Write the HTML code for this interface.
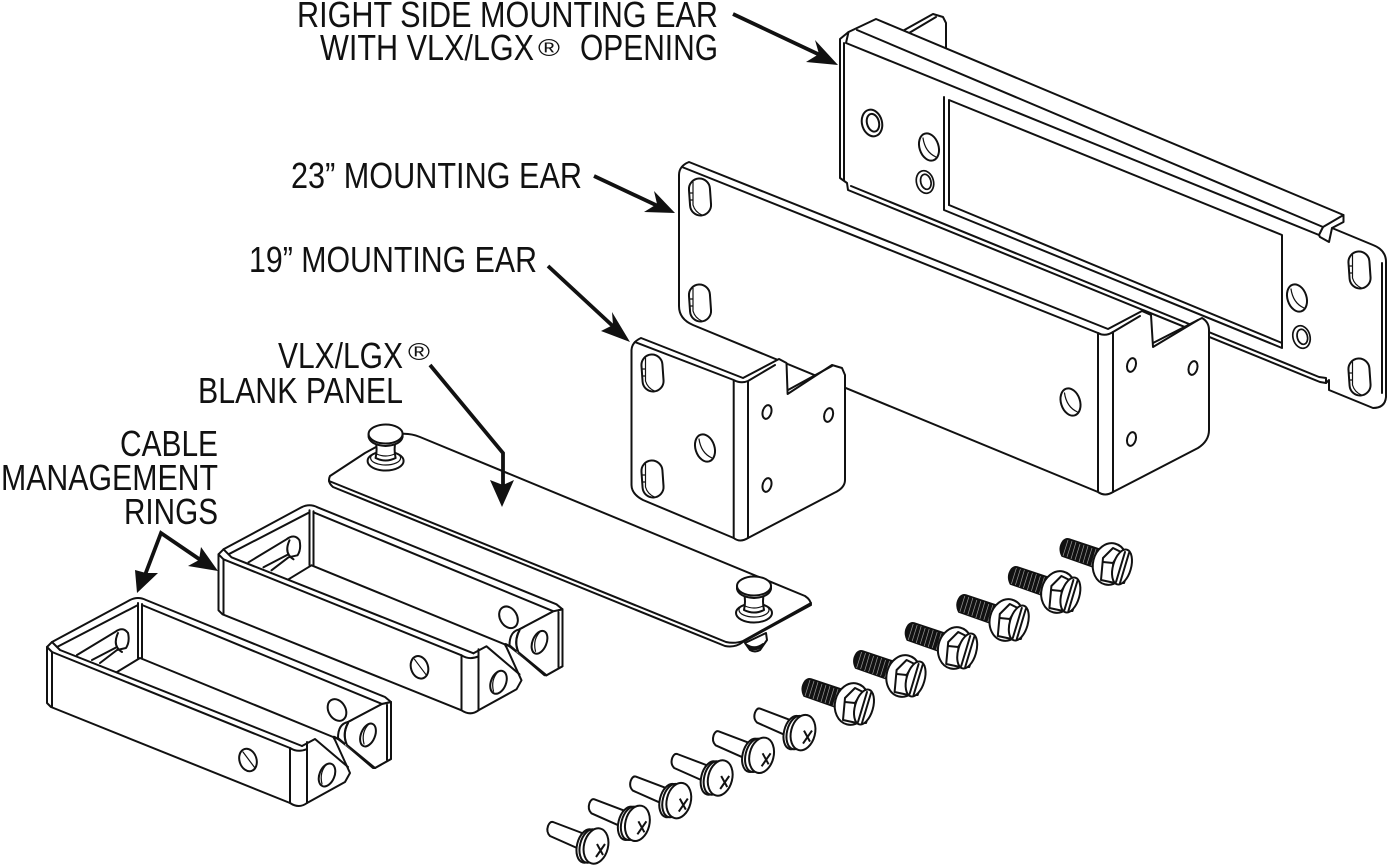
<!DOCTYPE html>
<html><head><meta charset="utf-8"><style>
html,body{margin:0;padding:0;background:#fff;width:1388px;height:865px;overflow:hidden}
svg{display:block}
text{font-family:"Liberation Sans",Arial,sans-serif;font-size:36px;fill:#111}
.b{fill:#fff;stroke:#111;stroke-width:2;stroke-linejoin:round;stroke-linecap:round}
.l{fill:none;stroke:#111;stroke-width:2;stroke-linejoin:round;stroke-linecap:round}
.t{fill:none;stroke:#111;stroke-width:1.2;stroke-linecap:round}
.a{fill:none;stroke:#111;stroke-width:3.8;stroke-linejoin:miter}
.h{fill:#111;stroke:none}
</style></head><body>
<svg width="1388" height="865" viewBox="0 0 1388 865" xmlns="http://www.w3.org/2000/svg">
<defs>
<g id="slot"><rect class="b" x="-10.5" y="-18.5" width="21" height="37" rx="10.5" transform="rotate(-4)"/><path class="t" d="M-7,-15 V8 Q-5,15 2,18 M-10,-4 H-7 M-10,3 H-7"/></g>
<g id="hole"><ellipse class="b" rx="9.5" ry="14" transform="rotate(-18)"/><path class="t" d="M-6,-9 Q-4,5 7,10"/></g>
<g id="ring2"><ellipse class="b" rx="10" ry="13.5" transform="rotate(-15)"/><ellipse class="l" cx="1" cy="0" rx="6" ry="9" transform="rotate(-15)"/></g>
<g id="small"><ellipse class="b" rx="4.3" ry="7" transform="rotate(15)"/></g>
<g id="ring">
<path class="b" d="M47,647 L52,642 L130,600 Q138,596 146,600 L385,697 L391,702 V759 L375,768 L338,739 Q331,734 335,740 L345,762 L350,773 L345,782 L307,803 Q299,809 290,803 L51,707 L47,703 Z"/>
<path class="l" d="M52,652 L290,748 M60,650 L302,746 M57,647 L138,605 M52,642 L60,650 M47,647 L52,652"/>
<path class="l" d="M52,652 V707 M290,748 V803 M307,742 V803 M290,748 Q298,753 307,749 M302,746 L315,739 L348,767"/>
<path class="l" d="M138,603 V658 M142,604 V658 M117,672 L140,658 L338,739"/>
<path class="l" d="M142,605 L382,704 M348,722 L382,704 L391,702 M387,705 V760"/>
<path class="l" d="M77,655 L115,632 Q123,626 128,633 Q130,642 126,648 L117,650 L100,663 M92,660 L117,647 M118,633 Q112,646 122,652"/>
<g transform="translate(248,760)"><ellipse class="b" rx="8.5" ry="11.5" transform="rotate(-18)"/><path class="t" d="M-5,-8 L7,8"/></g>
<g transform="translate(327,775)"><ellipse class="b" rx="7.5" ry="12" transform="rotate(22)"/><path class="t" d="M0,-11 Q-8,-3 -5,9"/></g>
<ellipse class="l" cx="337" cy="710" rx="8.5" ry="11.5" transform="rotate(-30 337 710)"/>
<path class="b" d="M348,722 Q338,724 338,738 L373,768 L375,768 L347,745 Q342,735 348,723 Z"/>
<path d="M346,722 L354,718 L345,745 L375,768 L391,759 V705 L382,704 Z" fill="#fff"/>
<path class="l" d="M348,722 L382,704 L391,702 V759 L375,768 L347,745 Q342,733 348,723 M387,705 V760"/>
<g transform="translate(368,735)"><ellipse class="b" rx="7" ry="12" transform="rotate(22)"/><path class="t" d="M1,-11 Q-7,-3 -4,9"/></g>
</g>
<g id="pan">
<path class="b" d="M553,822 L582,833 L577,848 L550,836 Q546,832 548,826 Q550,821 553,822 Z"/>
<ellipse class="b" cx="587" cy="846" rx="10" ry="17" transform="rotate(14 587 846)"/>
<ellipse class="b" cx="590" cy="846" rx="10" ry="17" transform="rotate(14 590 846)"/>
<ellipse class="b" cx="596" cy="846" rx="12" ry="18" transform="rotate(14 596 846)"/>
<path d="M597,844 L603,855 M605,844 L596,857" stroke="#111" stroke-width="2" fill="none"/>
</g>
<g id="bolt">
<path d="M811,679 L847,691 L838,708 L804,696 Q800,688 805,681 Q808,678 811,679 Z" fill="#111" stroke="#111" stroke-width="1.5" stroke-linejoin="round"/>
<path d="M810,680 L805,696 M814,681 L809,697 M818,682 L813,699 M822,684 L817,700 M826,685 L821,702 M830,686 L825,703 M834,688 L829,704 M838,689 L833,706" stroke="#999" stroke-width=".7" fill="none"/>
<ellipse class="b" cx="852" cy="704" rx="17" ry="21" transform="rotate(14 852 704)" stroke-width="2.4"/>
<path class="b" d="M845,698 L855,688 L863,692 L872,705 L866,723 L857,723 L843,720 Z" stroke-width="2.2"/>
<path class="l" d="M845,702 L855,703 L860,695 M855,703 L857,723" stroke-width="1.6"/>
<ellipse class="b" cx="864" cy="707" rx="9" ry="18" transform="rotate(16 864 707)" stroke-width="2.4"/>
<path class="l" d="M858,722 L867,692 M862,723 L871,693" stroke-width="1.6"/>
</g>
<g id="pin">
<ellipse class="b" cx="0" cy="27" rx="18" ry="9.5"/><ellipse class="t" cx="0" cy="24" rx="15" ry="7"/>
<path class="b" d="M-10,7 Q-8,15 -10,24 Q0,29 10,24 Q8,15 10,7 Z"/>
<path class="t" d="M-9,20 Q0,24 9,20"/>
<path class="b" d="M-17,0 V3 Q-15,11 0,12 Q15,11 17,3 V0 Z"/><ellipse class="b" cx="0" cy="0" rx="17" ry="9.5"/>
</g>
</defs>

<!-- right ear -->
<path class="b" d="M899,33 L933,14 L943,17 L946,23 V60 H899 Z"/>
<path class="l" d="M904,36 L936,17"/>
<path class="b" d="M840,39 L848.5,32 L876,19 L1343.5,215 V222 L1332,228 L1373,245 Q1386,250 1386,262 V397 Q1385,408 1373,408 L1329,390 V380 L1326,383 L1320,382 L848,190 L847,183 L840,178 Z"/>
<path class="l" d="M848.5,32 L846,43 L1319,235 M857,30 L1323,227 M844,43 V180 M1382,263 V393 M851,186 L1319,377 L1326,378 V383"/>
<path class="l" d="M1323,227 L1319,235 L1320,237 L1329,242 L1332,228 M1323,227 L1343.5,215"/>
<path class="l" d="M944,97 V210 L1282,348 V235 L949,100 V205"/>
<path class="l" d="M949,205 L1282,343" stroke-width="2.8"/>
<use href="#ring2" x="872" y="123"/>
<use href="#hole" x="929" y="147"/>
<g transform="translate(925,182) scale(.85)"><use href="#ring2"/></g>
<use href="#hole" x="1297" y="298"/>
<g transform="translate(1301.5,337) scale(.85)"><use href="#ring2"/></g>
<use href="#slot" x="1359.5" y="270"/>
<use href="#slot" x="1359.5" y="377"/>

<!-- 23 in ear -->
<path class="b" d="M679,175 Q679,166 689,162 L1108,329 L1142,311 L1151,315 L1153,347 L1198,320 L1202,318 Q1209,322 1209,330 V430 Q1209,441 1198,448 L1113,492 Q1105,497 1098,492 L693,325 Q679,319 679,306 Z"/>
<path class="l" d="M682,167 L1098,333 Q1105,337 1113,332 L1140,316"/>
<path class="l" d="M1098,333 V491 M1113,332 V492 M1153,343 L1198,320"/>
<use href="#slot" x="700" y="197"/>
<use href="#slot" x="700" y="303"/>
<use href="#hole" x="1070.5" y="402"/>
<use href="#small" x="1131.5" y="365"/>
<use href="#small" x="1193" y="368"/>
<use href="#small" x="1131.5" y="439"/>

<!-- 19 in ear -->
<path class="b" d="M631.5,350 Q632,342 641,338 L743,378 L779,359 L786.5,363 L787.6,394 L832,365 L842,368 L845,375 V480 Q845,488 834,493 L748,538 Q740,543 733.7,538 L643,500 Q631.5,494 631.5,485 Z"/>
<path class="l" d="M635,342 L733.7,380 Q741,384 748,381 L775,365 M733.7,380 V538 M748,381 V538 M788,390 L832,366"/>
<use href="#slot" x="652.5" y="373"/>
<use href="#slot" x="652.5" y="479"/>
<use href="#hole" x="705" y="448"/>
<use href="#small" x="767" y="412"/>
<use href="#small" x="828.6" y="415"/>
<use href="#small" x="767" y="485"/>

<!-- blank panel -->
<path class="b" d="M745,643 L750,650 Q755,653 760,650 L767,640 L766,633 Z"/>
<path class="l" d="M747,645 Q755,650 763,644 M749,648 Q755,651 761,647"/>
<path class="b" d="M330,476 L365,453 L400,434 Q410,433 420,437 L805,596 Q811,600 811,605 L743,642 Q735,648 725,646 L333,487 Q327,482 330,476 Z"/>
<path class="l" d="M329,481 L334,483 L726,642 Q735,644 743,641 L811,603"/>
<use href="#pin" x="385.6" y="434"/>
<use href="#pin" x="754" y="586"/>

<!-- rings -->
<use href="#ring" x="171.5" y="-92.7"/>
<use href="#ring"/>

<!-- screws -->
<use href="#pan"/>
<use href="#pan" x="41.4" y="-22.7"/>
<use href="#pan" x="82.8" y="-45.4"/>
<use href="#pan" x="124.2" y="-68"/>
<use href="#pan" x="165.6" y="-90.7"/>
<use href="#pan" x="207" y="-113.4"/>
<use href="#bolt"/>
<use href="#bolt" x="51.6" y="-28"/>
<use href="#bolt" x="103.2" y="-56"/>
<use href="#bolt" x="154.8" y="-84"/>
<use href="#bolt" x="206.4" y="-112"/>
<use href="#bolt" x="258" y="-140"/>

<!-- arrows -->
<path class="a" d="M733,14 L820,55"/><path class="h" d="M838,65 L815,40 L819,54 L806,62 Z"/>
<path class="a" d="M594,176 L660,207"/><path class="h" d="M675,213 L654,191 L657,204 L644,212 Z"/>
<path class="a" d="M548,266 L616,329"/><path class="h" d="M630,342 L612,312 L613,325 L601,331 Z"/>
<path class="a" d="M430,365 L503,453 V490"/><path class="h" d="M502,507 L490,480 L503,485 L514,480 Z"/>
<path class="a" d="M145,575 L161,533 L202,561"/>
<path class="h" d="M137,593 L135,570 L146,573 L158,573 Z"/><path class="h" d="M218,571 L201,547 L199,560 L188,566 Z"/>

<!-- labels -->
<text x="297" y="27" textLength="421" lengthAdjust="spacingAndGlyphs">RIGHT SIDE MOUNTING EAR</text>
<text x="320" y="60" textLength="214" lengthAdjust="spacingAndGlyphs">WITH VLX/LGX</text>
<text x="538" y="56" style="font-size:24px" textLength="22" lengthAdjust="spacingAndGlyphs">®</text>
<text x="580" y="60" textLength="138" lengthAdjust="spacingAndGlyphs">OPENING</text>
<text x="291" y="188" textLength="291" lengthAdjust="spacingAndGlyphs">23” MOUNTING EAR</text>
<text x="249" y="272" textLength="288" lengthAdjust="spacingAndGlyphs">19” MOUNTING EAR</text>
<text x="278" y="368" textLength="125" lengthAdjust="spacingAndGlyphs">VLX/LGX</text>
<text x="408" y="360" style="font-size:24px" textLength="22" lengthAdjust="spacingAndGlyphs">®</text>
<text x="198" y="403" textLength="205" lengthAdjust="spacingAndGlyphs">BLANK PANEL</text>
<text x="120" y="456" textLength="98" lengthAdjust="spacingAndGlyphs">CABLE</text>
<text x="1" y="490" textLength="217" lengthAdjust="spacingAndGlyphs">MANAGEMENT</text>
<text x="124" y="524" textLength="94" lengthAdjust="spacingAndGlyphs">RINGS</text>
</svg>
</body></html>
